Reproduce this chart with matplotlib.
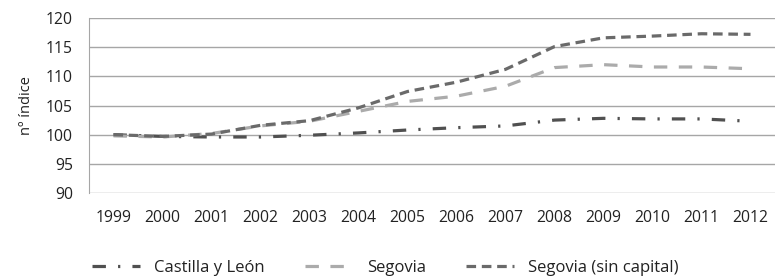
import matplotlib
matplotlib.use("Agg")
import matplotlib.pyplot as plt
import numpy as np

# --- data ---
years = ["1999", "2000", "2001", "2002", "2003", "2004", "2005",
         "2006", "2007", "2008", "2009", "2010", "2011", "2012"]
castilla = [100.0, 99.7, 99.6, 99.6, 99.9, 100.3, 100.8,
            101.2, 101.5, 102.5, 102.8, 102.7, 102.7, 102.3]
segovia = [99.8, 99.6, 100.2, 101.5, 102.3, 104.0, 105.7,
           106.6, 108.3, 111.5, 112.0, 111.6, 111.6, 111.3]
segovia_sc = [100.0, 99.7, 100.1, 101.6, 102.4, 104.6, 107.4,
              109.0, 111.2, 115.1, 116.6, 116.9, 117.3, 117.2]
yticks = [90, 95, 100, 105, 110, 115, 120]

plt.rcParams['font.family'] = ['Open Sans', 'DejaVu Sans']

fig = plt.figure(figsize=(7.76, 2.80), dpi=100)
ax = fig.add_axes([89/776, 1 - 193/280, 1 - 89/776 - 1/776, (193 - 18)/280])

x = np.arange(len(years))
lw = 2.3
ax.plot(x, castilla, color='#505050', lw=lw, linestyle=(0, (4.2, 3.8, 0.7, 3.8)),
        dash_capstyle='butt', label='Castilla y León')
ax.plot(x, segovia, color='#ababab', lw=lw, linestyle=(0, (4.2, 3.6)),
        dash_capstyle='butt', label='Segovia')
ax.plot(x, segovia_sc, color='#6a6a6a', lw=lw, linestyle=(0, (3.0, 1.8)),
        dash_capstyle='butt', label='Segovia (sin capital)')

ax.set_xlim(-0.5, len(years) - 0.5)
ax.set_ylim(90, 120)
ax.set_yticks(yticks)
ax.set_xticks(x)
ax.set_xticklabels(years)
ax.yaxis.grid(True, color='#a6a6a6', lw=1)
ax.set_axisbelow(True)
for s in ['top', 'right', 'bottom']:
    ax.spines[s].set_visible(False)
ax.spines['left'].set_color('#a6a6a6')
ax.tick_params(axis='both', length=0, labelsize=11.3, colors='#222222')
ax.tick_params(axis='x', pad=12)
ax.tick_params(axis='y', pad=11.5)
ax.set_ylabel('nº índice', fontsize=10.5, color='#222222', labelpad=9)

fs = 12
em = fs * 100 / 72  # em size in pixels
leg = fig.legend(loc='center', bbox_to_anchor=(0.5, 1 - 268/280), ncol=3,
                 frameon=False, fontsize=fs, handlelength=48 / em,
                 columnspacing=40 / em, handletextpad=14 / em)
for t in leg.get_texts():
    t.set_color('#222222')

fig.canvas.draw()
# shift legend so its first handle starts near x=92px like the reference
h0 = leg.legend_handles[0].get_window_extent(fig.canvas.get_renderer())
leg.set_bbox_to_anchor((0.5 + (92 - h0.x0) / 776, 1 - 268/280), transform=fig.transFigure)

fig.savefig('out.png', dpi=100)
